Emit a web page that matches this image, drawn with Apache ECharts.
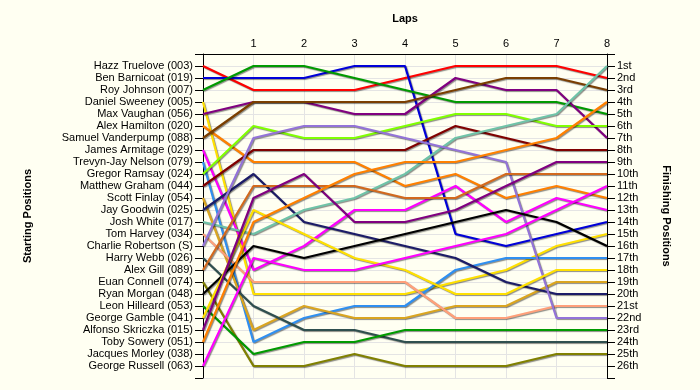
<!DOCTYPE html>
<html>
<head>
<meta charset="utf-8">
<script src="https://cdn.jsdelivr.net/npm/echarts@6/dist/echarts.min.js"></script>
<style>html,body{margin:0;padding:0;background:#fffff2;}#c{width:700px;height:390px;}</style>
</head>
<body>
<div id="c"></div>
<script>
// Laps on the x axis
const laps = [0, 1, 2, 3, 4, 5, 6, 7, 8];

// Starting grid (left axis labels, top to bottom)
const startingNames = [
  'Hazz Truelove (003)', 'Ben Barnicoat (019)', 'Roy Johnson (007)', 'Daniel Sweeney (005)',
  'Max Vaughan (056)', 'Alex Hamilton (020)', 'Samuel Vanderpump (088)', 'James Armitage (029)',
  'Trevyn-Jay Nelson (079)', 'Gregor Ramsay (024)', 'Matthew Graham (044)', 'Scott Finlay (054)',
  'Jay Goodwin (025)', 'Josh White (017)', 'Tom Harvey (034)', 'Charlie Robertson (S)',
  'Harry Webb (026)', 'Alex Gill (089)', 'Euan Connell (074)', 'Ryan Morgan (048)',
  'Leon Hilleard (053)', 'George Gamble (041)', 'Alfonso Skriczka (015)', 'Toby Sowery (051)',
  'Jacques Morley (038)', 'George Russell (063)'
];

// Finishing positions (right axis labels)
const finishingLabels = [
  '1st', '2nd', '3rd', '4th', '5th', '6th', '7th', '8th', '9th', '10th', '11th', '12th', '13th',
  '14th', '15th', '16th', '17th', '18th', '19th', '20th', '21st', '22nd', '23rd', '24th', '25th', '26th'
];

// Position of each driver at laps 0..8
const hazzTruelove     = [1, 3, 3, 3, 2, 1, 1, 1, 2];
const benBarnicoat     = [2, 2, 2, 1, 1, 15, 16, 15, 14];
const royJohnson       = [3, 1, 1, 2, 3, 4, 4, 4, 5];
const danielSweeney    = [4, 20, 20, 20, 20, 19, 18, 16, 15];
const maxVaughan       = [5, 4, 4, 5, 5, 2, 3, 3, 7];
const alexHamilton     = [6, 9, 9, 9, 11, 10, 12, 11, 12];
const samuelVanderpump = [7, 4, 4, 4, 4, 3, 2, 2, 3];
const jamesArmitage    = [8, 18, 16, 13, 13, 11, 14, 12, 13];
const trevynJayNelson  = [9, 24, 22, 21, 21, 18, 17, 17, 17];
const gregorRamsay     = [10, 6, 7, 7, 6, 5, 5, 6, 6];
const matthewGraham    = [11, 8, 8, 8, 8, 6, 7, 8, 8];
const scottFinlay      = [12, 23, 21, 22, 22, 21, 21, 19, 19];
const jayGoodwin       = [13, 10, 14, 15, 16, 17, 19, 20, 20];
const joshWhite        = [14, 15, 13, 12, 10, 7, 6, 5, 1];
const tomHarvey        = [15, 19, 19, 19, 19, 22, 22, 21, 21];
const charlieRobertson = [16, 7, 6, 6, 7, 8, 9, 22, 22];
const harryWebb        = [17, 21, 23, 23, 24, 24, 24, 24, 24];
const alexGill         = [18, 11, 11, 11, 12, 12, 10, 10, 10];
const euanConnell      = [19, 26, 26, 25, 26, 26, 26, 25, 25];
const ryanMorgan       = [20, 16, 17, 16, 15, 14, 13, 14, 16];
const leonHilleard     = [21, 25, 24, 24, 23, 23, 23, 23, 23];
const georgeGamble     = [22, 13, 15, 17, 18, 20, 20, 18, 18];
const alfonsoSkriczka  = [23, 12, 10, 14, 14, 13, 11, 9, 9];
const tobySowery       = [24, 14, 12, 10, 9, 9, 8, 7, 4];
const georgeRussell    = [26, 17, 18, 18, 17, 16, 15, 13, 11];

const driverRows = [
  ['Hazz Truelove (003)', hazzTruelove],
  ['Ben Barnicoat (019)', benBarnicoat],
  ['Roy Johnson (007)', royJohnson],
  ['Daniel Sweeney (005)', danielSweeney],
  ['Max Vaughan (056)', maxVaughan],
  ['Alex Hamilton (020)', alexHamilton],
  ['Samuel Vanderpump (088)', samuelVanderpump],
  ['James Armitage (029)', jamesArmitage],
  ['Trevyn-Jay Nelson (079)', trevynJayNelson],
  ['Gregor Ramsay (024)', gregorRamsay],
  ['Matthew Graham (044)', matthewGraham],
  ['Scott Finlay (054)', scottFinlay],
  ['Jay Goodwin (025)', jayGoodwin],
  ['Josh White (017)', joshWhite],
  ['Tom Harvey (034)', tomHarvey],
  ['Charlie Robertson (S)', charlieRobertson],
  ['Harry Webb (026)', harryWebb],
  ['Alex Gill (089)', alexGill],
  ['Euan Connell (074)', euanConnell],
  ['Ryan Morgan (048)', ryanMorgan],
  ['Leon Hilleard (053)', leonHilleard],
  ['George Gamble (041)', georgeGamble],
  ['Alfonso Skriczka (015)', alfonsoSkriczka],
  ['Toby Sowery (051)', tobySowery],
  ['George Russell (063)', georgeRussell]
];

const lineColors = [
  '#ff0000', '#0000d8', '#009a00', '#ffe000', '#800080', '#ff8000', '#7a3e00', '#ff00ff',
  '#2f8ff0', '#80ff00', '#800000', '#daa520', '#1c1c68', '#6fc3a8', '#ffa07a', '#9373d8',
  '#2f4f4f', '#d2691e', '#808000', '#000000', '#009a00', '#ffe000', '#800080', '#ff8000',
  '#ff00ff'
];

const FONT = '"Liberation Sans", Arial, sans-serif';

const series = driverRows.map((d, i) => ({
  name: d[0],
  type: 'line',
  yAxisIndex: 0,
  symbol: 'none',
  silent: true,
  data: laps.map((lap, k) => [lap, d[1][k]]),
  lineStyle: {
    width: 2.2,
    color: lineColors[i],
    shadowColor: 'rgba(0,0,0,0.45)',
    shadowBlur: 1,
    shadowOffsetX: 1,
    shadowOffsetY: 1
  },
  z: 2
}));

const chart = echarts.init(document.getElementById('c'), null, { renderer: 'canvas' });
chart.setOption({
  animation: false,
  backgroundColor: '#fffff2',
  grid: { left: 203, right: 93, top: 54, bottom: 12, containLabel: false },
  xAxis: {
    type: 'value',
    position: 'top',
    min: 0, max: 8, interval: 1,
    name: 'Laps',
    nameLocation: 'middle',
    nameGap: 30,
    nameTextStyle: { fontFamily: FONT, fontSize: 11, fontWeight: 'bold', color: '#000' },
    axisLine: { show: true, lineStyle: { color: '#000', width: 1 } },
    axisTick: { show: false },
    axisLabel: {
      fontFamily: FONT, fontSize: 11, color: '#000', margin: 5,
      formatter: v => (v === 0 ? '' : String(v))
    },
    splitLine: { show: true, lineStyle: { color: '#e4e4e4', width: 1 } }
  },
  yAxis: [
    {
      type: 'value',
      position: 'left',
      inverse: true,
      min: 0, max: 27, interval: 1,
      name: 'Starting Positions',
      nameLocation: 'middle',
      nameGap: 170,
      nameTextStyle: { fontFamily: FONT, fontSize: 11, fontWeight: 'bold', color: '#000' },
      axisLine: { show: true, lineStyle: { color: '#000', width: 1 } },
      axisTick: { show: true, inside: false, length: 8, lineStyle: { color: '#000' } },
      axisLabel: {
        fontFamily: FONT, fontSize: 11, color: '#000', margin: 10,
        formatter: v => (v >= 1 && v <= 26 ? startingNames[v - 1] : '')
      },
      splitLine: { show: true, lineStyle: { color: '#e4e4e4', width: 1 } }
    },
    {
      type: 'value',
      position: 'right',
      inverse: true,
      min: 0, max: 27, interval: 1,
      name: 'Finishing Positions',
      nameLocation: 'middle',
      nameRotate: -90,
      nameGap: 54,
      nameTextStyle: { fontFamily: FONT, fontSize: 11, fontWeight: 'bold', color: '#000' },
      axisLine: { show: true, lineStyle: { color: '#000', width: 1 } },
      axisTick: { show: true, inside: false, length: 8, lineStyle: { color: '#000' } },
      axisLabel: {
        fontFamily: FONT, fontSize: 11, color: '#000', margin: 10,
        formatter: v => (v >= 1 && v <= 26 ? finishingLabels[v - 1] : '')
      },
      splitLine: { show: false }
    }
  ],
  series: series
});
</script>
</body>
</html>
